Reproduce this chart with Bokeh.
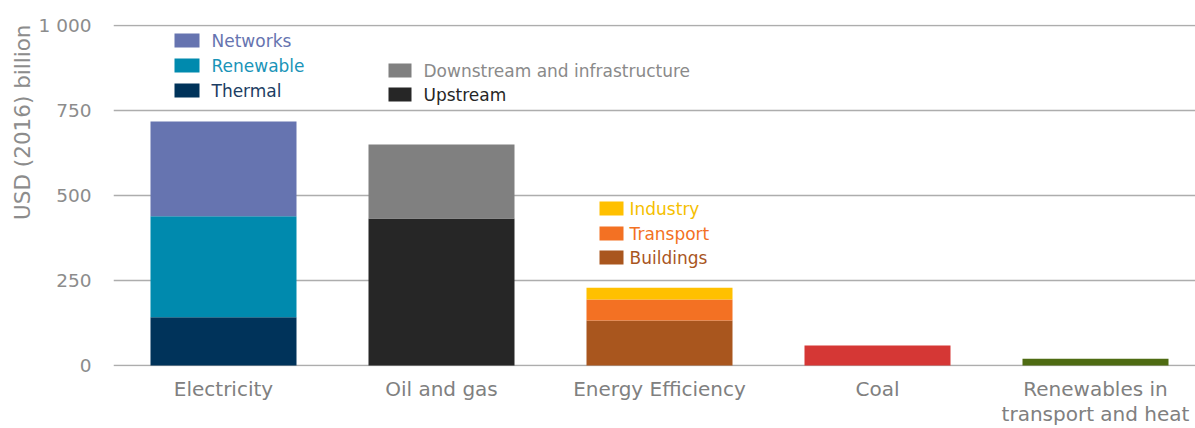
from bokeh.plotting import figure
from bokeh.models import Range1d, FixedTicker, Title
from bokeh.core.properties import value
from bokeh.embed import file_html
from bokeh.resources import INLINE

# ---------------- data ----------------
categories = ["Electricity", "Oil and gas", "Energy Efficiency", "Coal",
              "Renewables in\ntransport and heat"]

electricity_series = ["Thermal", "Renewable", "Networks"]
electricity_values = [142, 297, 279]

oil_gas_series = ["Upstream", "Downstream and infrastructure"]
oil_gas_values = [432, 218]

efficiency_series = ["Buildings", "Transport", "Industry"]
efficiency_values = [132, 62, 35]

coal_value = [59]
renew_heat_value = [20]

y_ticks = [0, 250, 500, 750, 1000]
y_tick_labels = ["0", "250", "500", "750", "1 000"]

# ---------------- styles ----------------
FONT = "DejaVu Sans"
colors = {
    "Thermal": "#00335A", "Renewable": "#008AAE", "Networks": "#6674B0",
    "Upstream": "#262626", "Downstream and infrastructure": "#808080",
    "Buildings": "#A9561E", "Transport": "#F37123", "Industry": "#FFC000",
    "Coal": "#D53735", "RenewHeat": "#4E6B12",
}
text_colors = {
    "Thermal": "#1C3D63", "Renewable": "#1A94B8", "Networks": "#6674B0",
    "Upstream": "#262626", "Downstream and infrastructure": "#8A8A8A",
    "Buildings": "#A9561E", "Transport": "#F37123", "Industry": "#F5C000",
}

# layout (pixels)
FIG_W, FIG_H = 1195, 428
LEFT, TOP, BOTTOM = 113, 24, 62
PX_PER_CAT = 218.0
X0 = -(223 - LEFT) / PX_PER_CAT
X1 = X0 + (FIG_W - LEFT) / PX_PER_CAT
Y0, Y1 = -3, 1003
FRAME_BOTTOM_PX = FIG_H - BOTTOM
PX_PER_UNIT = (FIG_H - TOP - BOTTOM) / (Y1 - Y0)


def px_x(px):
    return X0 + (px - LEFT) / PX_PER_CAT


def px_y(py):
    return Y0 + (FRAME_BOTTOM_PX - py) / PX_PER_UNIT


p = figure(width=FIG_W, height=FIG_H, output_backend="svg", toolbar_location=None,
           x_range=Range1d(X0, X1), y_range=Range1d(Y0, Y1),
           min_border_left=LEFT, min_border_right=0, min_border_top=TOP,
           min_border_bottom=BOTTOM)
p.outline_line_color = None
p.background_fill_color = "white"

# ---------------- bars ----------------
BAR_W = 146 / PX_PER_CAT


def stack(idx, names, vals):
    bottom = 0
    for n, v in zip(names, vals):
        p.vbar(x=[idx], bottom=[bottom], top=[bottom + v], width=BAR_W,
               fill_color=colors[n], line_color=None)
        bottom += v


stack(0, electricity_series, electricity_values)
stack(1, oil_gas_series, oil_gas_values)
stack(2, efficiency_series, efficiency_values)
p.vbar(x=[3], bottom=[0], top=coal_value, width=BAR_W, fill_color=colors["Coal"], line_color=None)
p.vbar(x=[4], bottom=[0], top=renew_heat_value, width=BAR_W, fill_color=colors["RenewHeat"], line_color=None)

# ---------------- legends (in-plot) ----------------
legend_groups = [
    (["Networks", "Renewable", "Thermal"], 186.5, 25, [40, 65, 90], 211),
    (["Downstream and infrastructure", "Upstream"], 399.5, 23, [70, 94], 423),
    (["Industry", "Transport", "Buildings"], 611, 24, [208, 233, 257], 629),
]
for names, sx, sw, rows, tx in legend_groups:
    p.rect(x=[px_x(sx)] * len(names), y=[px_y(r) for r in rows], width=sw, height=14,
           width_units="screen", height_units="screen",
           fill_color=[colors[n] for n in names], line_color=None)
    p.text(x=[px_x(tx)] * len(names), y=[px_y(r) for r in rows], text=names,
           text_baseline="middle", text_align="left", text_font=value(FONT),
           text_font_size="17px", text_color=[text_colors[n] for n in names])

# ---------------- axes ----------------
p.xgrid.grid_line_color = None
p.ygrid.ticker = FixedTicker(ticks=y_ticks)
p.ygrid.grid_line_color = "#ADADAD"
p.ygrid.grid_line_width = 1.6

p.yaxis.ticker = FixedTicker(ticks=y_ticks)
p.yaxis.major_label_overrides = {t: l for t, l in zip(y_ticks, y_tick_labels)}
p.yaxis.axis_line_color = None
p.yaxis.major_tick_line_color = None
p.yaxis.minor_tick_line_color = None
p.yaxis.major_tick_out = 0
p.yaxis.major_tick_in = 0
p.yaxis.major_label_text_font = FONT
p.yaxis.major_label_text_font_size = "18.5px"
p.yaxis.major_label_text_color = "#8C8C8C"
p.yaxis.major_label_standoff = 22

p.xaxis.ticker = FixedTicker(ticks=list(range(len(categories))))
p.xaxis.major_label_overrides = {i: c for i, c in enumerate(categories)}
p.xaxis.axis_line_color = None
p.xaxis.major_tick_line_color = None
p.xaxis.minor_tick_line_color = None
p.xaxis.major_tick_out = 0
p.xaxis.major_tick_in = 0
p.xaxis.major_label_text_font = FONT
p.xaxis.major_label_text_font_size = "20px"
p.xaxis.major_label_text_line_height = 1.05
p.xaxis.major_label_text_color = "#808080"
p.xaxis.major_label_standoff = 10

ytitle = Title(text="USD (2016) billion", align="right", text_font=FONT,
               text_font_size="21.5px", text_font_style="normal", text_color="#8C8C8C",
               standoff=2)
p.add_layout(ytitle, "left")

open("out.html", "w").write(file_html(p, INLINE))
